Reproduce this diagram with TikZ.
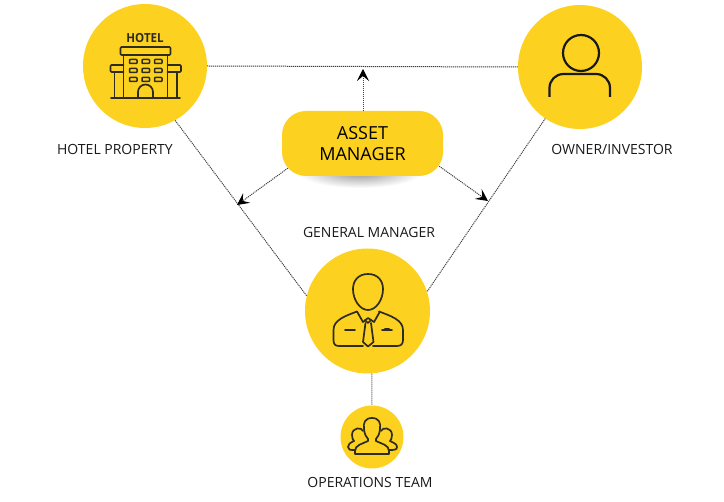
\documentclass[tikz,border=0pt]{standalone}
\usepackage{fontspec}
\setmainfont{Open Sans}
\usetikzlibrary{arrows.meta}
\definecolor{hotelyellow}{HTML}{FDD11F}
\definecolor{icondark}{HTML}{2E2C22}
\tikzset{
role/.style={
	  circle, fill=hotelyellow, inner sep=0pt, minimum size=#1},
caption/.style={
	  font=\fontsize{14}{16}\selectfont, text=black!90, inner sep=0pt},
link/.style={
	  draw=black!75, line width=1pt, dash pattern=on 1.1pt off 0.9pt},
pointer/.style={
	  link, -{Stealth[length=12pt,width=12pt,inset=5pt,black]}},
icon/.style={
	  draw=icondark, line width=1.7pt, line join=round, line cap=round}
}

\begin{document}
\begin{tikzpicture}[x=1pt, y=-1pt]
	\useasboundingbox (0,0) rectangle (724,502);
	% shadow under the box
	\shade[inner color=black!42, outer color=white] (360,172) ellipse (62 and 16);
	\node[role=124pt] (hotel) at (145,66) {};
	\node[role=124pt] (owner) at (580,67) {};
	\node[role=125pt] (general) at (367.5,311) {};
	\node[role=63pt] (team) at (372,437) {};
	\node[fill=hotelyellow, rounded corners=24pt, minimum width=161pt, minimum height=65pt,
		align=center, inner sep=0pt, font=\fontsize{18}{20.5}\selectfont, text=black]
		(asset) at (362.5,143.5) {ASSET\\MANAGER};
	\node[caption] (hotelcap) at (115,149) {HOTEL PROPERTY};
	\node[caption] (ownercap) at (612,149) {OWNER/INVESTOR};
	\node[caption] (generalcap) at (369,233) {GENERAL MANAGER};
	\node[caption] (teamcap) at (370,482) {OPERATIONS TEAM};
	\coordinate (toptip) at (363,69);
	\coordinate (lefttip) at (237,205);
	\coordinate (righttip) at (488,201);
	% the triangle
	\draw[link] (hotel.0) -- (owner.180);
	\draw[link] (hotel.-61) -- (general.166);
	\draw[link] (owner.236.6) -- (general.18.6);
	\draw[link] (general.-86) -- (team.90);
	% arrows out of the box
	\draw[pointer] (asset.north) ++(0.5,0) -- (toptip);
	\draw[pointer] ([xshift=6pt,yshift=8pt]asset.south west) -- (lefttip);
	\draw[pointer] ([xshift=-4pt,yshift=10pt]asset.south east) -- (righttip);
	% hotel icon
	\node[font=\fontsize{12.5}{12.5}\selectfont\bfseries, text=icondark, inner sep=0pt, xscale=0.92]
		(hotelword) at (145,38.5) {HOTEL};
	\draw[icon, rounded corners=1pt] (120.5,47) rectangle (170.5,55);
	\draw[icon] (123.5,55) -- (123.5,98) (167.5,55) -- (167.5,98);
	\draw[icon, rounded corners=1pt] (123.5,65) -- (110.5,65) -- (110.5,72) -- (123.5,72);
	\draw[icon, rounded corners=1pt] (167.5,65) -- (181,65) -- (181,72) -- (167.5,72);
	\draw[icon] (114.5,72) -- (114.5,98) (177,72) -- (177,98);
	\draw[icon] (111,98) -- (180,98);
	\foreach \wx in {129.5,142,154.5}
		\foreach \wy in {59.5,68.5,77.5}
			\draw[icon, line width=1.5pt, rounded corners=0.8pt] (\wx,\wy) rectangle +(7.5,4);
	\draw[icon] (138,98) -- (138,92) arc (180:360:7.5) -- (153,98);
	% owner icon
	\draw[icon, line width=2.2pt, draw=black!90] (581,53) circle (18);
	\draw[icon, line width=2.2pt, draw=black!90, line cap=butt] (549.5,97) -- (549.5,88)
		arc (180:270:14) -- (596,74) arc (270:360:14) -- (610,97);
	% general manager icon
	\draw[icon] (368,274) .. controls (358,274) and (353,281) .. (353,289)
		.. controls (353,300) and (360,310) .. (368,310)
		.. controls (376,310) and (383,300) .. (383,289)
		.. controls (383,281) and (378,274) .. (368,274);
	\draw[icon] (363,346) -- (339,346) .. controls (335,346) and (333.5,344) .. (333.5,340)
		-- (333.5,330) .. controls (333.5,320) and (345,316) .. (357,311.5);
	\draw[icon] (373,346) -- (397,346) .. controls (401,346) and (403,344) .. (403,340)
		-- (403,330) .. controls (403,320) and (391,316) .. (379,311.5);
	\draw[icon] (357,311.5) -- (363,322) -- (368,318) -- (374,322) -- (380,311.5);
	\draw[icon] (365,320) -- (368,323) -- (371,320);
	\draw[icon] (365.5,323) -- (363,342) -- (368,346.5) -- (373.5,342) -- (371,323);
	\draw[icon] (345,330) -- (355,330) (382,330) -- (392,330) (385,328.5) -- (389,328.5);
	% operations team icon
	\draw[icon] (372,418) .. controls (365,418) and (363,423) .. (364,429)
		.. controls (364.5,434) and (366,437) .. (368,439) -- (368,441)
		.. controls (362,444) and (355,445) .. (355,451) -- (355,454) -- (389,454) -- (389,451)
		.. controls (389,445) and (382,444) .. (376,441) -- (376,439)
		.. controls (378,437) and (379.5,434) .. (380,429)
		.. controls (381,423) and (379,418) .. (372,418);
	\draw[icon] (363,431) .. controls (362,427) and (352,427) .. (352,435)
		.. controls (352,438) and (353,440) .. (354,441)
		.. controls (350,443) and (348,444) .. (348,447) .. controls (348,450) and (350,450) .. (355,450);
	\draw[icon] (381,431) .. controls (382,427) and (392,427) .. (392,435)
		.. controls (392,438) and (391,440) .. (390,441)
		.. controls (394,443) and (397,444) .. (397,447) .. controls (397,450) and (394,450) .. (389,450);
\end{tikzpicture}
\end{document}
